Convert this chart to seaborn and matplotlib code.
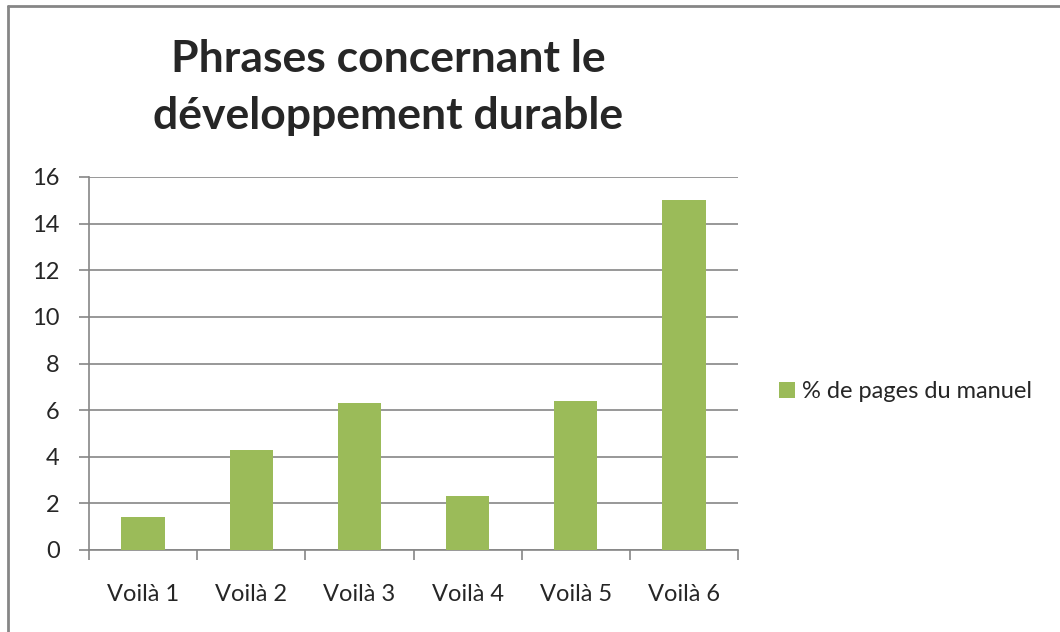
import matplotlib
matplotlib.use("Agg")
import matplotlib.pyplot as plt
import seaborn as sns
import pandas as pd
from matplotlib.patches import Patch
from matplotlib.lines import Line2D

categories = ["Voilà 1", "Voilà 2", "Voilà 3", "Voilà 4", "Voilà 5", "Voilà 6"]
values = [1.4, 4.3, 6.3, 2.3, 6.4, 15.0]
series_name = "% de pages du manuel"
title = "Phrases concernant le\ndéveloppement durable"
yticks = [0, 2, 4, 6, 8, 10, 12, 14, 16]

sns.set_style("white")
plt.rcParams['font.family'] = ['Lato', 'DejaVu Sans']

df = pd.DataFrame({"cat": categories, "val": values})

fig = plt.figure(figsize=(10.6, 6.32), dpi=100)
ax = fig.add_axes([89/1060, 1-550/632, (738-89)/1060, (550-177)/632])

green = "#9BBB59"
grid = "#868686"
sns.barplot(data=df, x="cat", y="val", ax=ax, color=green, width=0.4,
            saturation=1, edgecolor="none", zorder=3)

ax.set_ylim(0, 16)
ax.set_xlim(-0.5, 5.5)
ax.set_yticks(yticks)
ax.set_yticklabels([str(t) for t in yticks])
ax.set_xlabel("")
ax.set_ylabel("")
ax.yaxis.grid(True, color=grid, linewidth=1.2, zorder=0)
ax.set_axisbelow(True)
for s in ["top", "right"]:
    ax.spines[s].set_visible(False)
for s in ["left", "bottom"]:
    ax.spines[s].set_color(grid)
    ax.spines[s].set_linewidth(1.2)
ax.set_xticks([i - 0.5 for i in range(len(categories) + 1)], minor=True)
ax.tick_params(axis="x", which="major", length=0, pad=32, labelsize=17)
ax.tick_params(axis="x", which="minor", length=7, color=grid, width=1.2, direction="out", bottom=True)
ax.tick_params(axis="y", length=7, color=grid, width=1.2, direction="out", pad=14, labelsize=17, left=True)
for lbl in ax.get_xticklabels():
    lbl.set_verticalalignment("center")

fig.text(388/1060, 1-39/632, title, ha="center", va="top", fontsize=32,
         fontweight="bold", linespacing=1.52)

handles = [Patch(facecolor=green, edgecolor="none", label=series_name)]
fig.legend(handles=handles, loc="center left", bbox_to_anchor=(758/1060, 1-392/632),
           frameon=False, fontsize=17, handlelength=0.65, handleheight=0.65,
           handletextpad=0.3)

# outer chart frame (only left and top edges visible in the crop)
fig.add_artist(Line2D([7.5/1060, 7.5/1060], [0, 1-6/632], transform=fig.transFigure,
                      color=grid, linewidth=2))
fig.add_artist(Line2D([7.5/1060, 1], [1-6/632, 1-6/632], transform=fig.transFigure,
                      color=grid, linewidth=2))

fig.savefig("out.png", dpi=100, facecolor="white")
